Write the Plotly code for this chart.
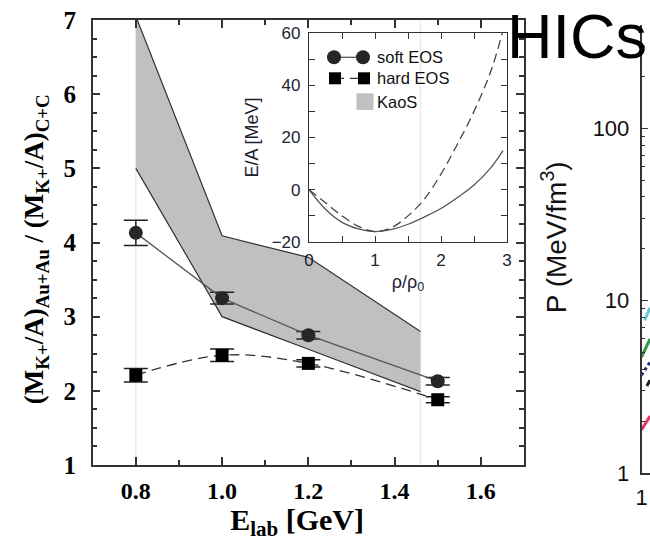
import plotly.graph_objects as go

# ---------------- data ----------------
energies = [0.8, 1.0, 1.2, 1.5]
soft_ratio = [4.13, 3.25, 2.75, 2.13]
soft_err = [0.17, 0.08, 0.05, 0.05]
hard_ratio = [2.21, 2.48, 2.37, 1.88]
hard_err = [0.09, 0.085, 0.05, 0.04]

kaos_x = [0.8, 1.0, 1.2, 1.46]
kaos_upper = [7.05, 4.09, 3.80, 2.80]
kaos_lower = [5.00, 3.00, 2.56, 1.99]

rho = [0.0, 0.25, 0.5, 0.75, 1.0, 1.25, 1.5, 1.75, 2.0, 2.25, 2.5, 2.75, 2.94]
ea_soft = [0.0, -7.5, -12.5, -15.0, -16.0, -15.2, -13.2, -10.4, -7.2, -3.0, 1.8, 8.3, 15.0]
ea_hard = [0.0, -5.0, -10.0, -14.0, -16.0, -14.5, -10.0, -3.5, 6.0, 17.5, 30.0, 45.0, 61.0]

legend_names = ["soft EOS", "hard EOS", "KaoS"]

# fragments of the neighbouring (cropped) pressure panel
p_cyan_x, p_cyan_y = [1.03, 1.08], [7.7, 9.1]
p_green_x, p_green_y = [1.0, 1.08], [4.7, 6.0]
p_navy_x, p_navy_y = [1.0, 1.08], [3.7, 4.4]
p_black_x, p_black_y = [1.05, 1.08], [3.2, 3.45]
p_red_x, p_red_y = [1.0, 1.08], [1.78, 2.14]

W, H = 650, 541
def px(x):
    return x / W
def py(y):
    return 1 - y / H

SERIF = "Liberation Serif"
SANS = "Liberation Sans"

fig = go.Figure()

# KaoS band (fill)
fig.add_trace(go.Scatter(
    x=kaos_x + kaos_x[::-1], y=kaos_upper + kaos_lower[::-1],
    fill="toself", fillcolor="#c0c0c0", mode="none",
    name=legend_names[2], xaxis="x", yaxis="y", hoverinfo="skip"))
fig.add_trace(go.Scatter(x=kaos_x, y=kaos_upper, mode="lines",
                         line=dict(color="#333333", width=1.2),
                         xaxis="x", yaxis="y"))
fig.add_trace(go.Scatter(x=kaos_x, y=kaos_lower, mode="lines",
                         line=dict(color="#333333", width=1.2),
                         xaxis="x", yaxis="y"))

# hard EOS
fig.add_trace(go.Scatter(
    x=energies, y=hard_ratio, mode="lines+markers", name=legend_names[1],
    line=dict(color="#333333", width=1.3, dash="10px,6px", shape="spline"),
    marker=dict(symbol="square", size=13, color="black"),
    error_y=dict(type="data", array=hard_err, color="#222222", thickness=1.5, width=12),
    xaxis="x", yaxis="y"))

# soft EOS
fig.add_trace(go.Scatter(
    x=energies, y=soft_ratio, mode="lines+markers", name=legend_names[0],
    line=dict(color="#555555", width=1.3),
    marker=dict(symbol="circle", size=14, color="#262626"),
    error_y=dict(type="data", array=soft_err, color="#222222", thickness=1.5, width=12),
    xaxis="x", yaxis="y"))

# inset EOS curves
fig.add_trace(go.Scatter(x=rho, y=ea_soft, mode="lines",
                         line=dict(color="#555555", width=1.3, shape="spline"),
                         xaxis="x2", yaxis="y2", cliponaxis=True))
fig.add_trace(go.Scatter(x=rho, y=ea_hard, mode="lines",
                         line=dict(color="#444444", width=1.3, dash="9px,5px", shape="spline"),
                         xaxis="x2", yaxis="y2", cliponaxis=True))

# right panel fragments
for xs, ys, col, dash in [(p_cyan_x, p_cyan_y, "#5ccbd6", "solid"),
                          (p_green_x, p_green_y, "#2f9a48", "solid"),
                          (p_navy_x, p_navy_y, "#1f2a8a", "dot"),
                          (p_black_x, p_black_y, "#222222", "dash"),
                          (p_red_x, p_red_y, "#e8356b", "solid")]:
    fig.add_trace(go.Scatter(x=xs, y=ys, mode="lines",
                             line=dict(color=col, width=3, dash=dash),
                             xaxis="x3", yaxis="y3"))

axis_common = dict(showline=True, linecolor="#333333", linewidth=1.5, mirror="allticks",
                   ticks="inside", tickcolor="#333333", showgrid=False, zeroline=False,
                   automargin=False)

# hand-drawn legend inside the inset (two markers per entry like the original)
leg_font = dict(family=SANS, size=16.5, color="#111111")
shapes = [
    dict(type="line", xref="x", yref="y", x0=0.8, x1=0.8, y0=1, y1=7,
         line=dict(color="#ececec", width=1.5), layer="below"),
    dict(type="line", xref="x", yref="y", x0=1.46, x1=1.46, y0=1, y1=7,
         line=dict(color="#ececec", width=1.5), layer="below"),
    # soft EOS entry
    dict(type="line", xref="paper", yref="paper", x0=px(334), x1=px(363), y0=py(57.3), y1=py(57.3),
         line=dict(color="#555555", width=1.3)),
    dict(type="circle", xref="paper", yref="paper", x0=px(327), x1=px(341), y0=py(64.3), y1=py(50.3),
         fillcolor="#262626", line=dict(width=0)),
    dict(type="circle", xref="paper", yref="paper", x0=px(356), x1=px(370), y0=py(64.3), y1=py(50.3),
         fillcolor="#262626", line=dict(width=0)),
    # hard EOS entry
    dict(type="line", xref="paper", yref="paper", x0=px(335), x1=px(364), y0=py(78.3), y1=py(78.3),
         line=dict(color="#333333", width=1.3, dash="9px,6px")),
    dict(type="rect", xref="paper", yref="paper", x0=px(329), x1=px(341), y0=py(84.3), y1=py(72.3),
         fillcolor="black", line=dict(width=0)),
    dict(type="rect", xref="paper", yref="paper", x0=px(358), x1=px(370), y0=py(84.3), y1=py(72.3),
         fillcolor="black", line=dict(width=0)),
    # KaoS entry
    dict(type="rect", xref="paper", yref="paper", x0=px(356.5), x1=px(373.5), y0=py(110), y1=py(93.3),
         fillcolor="#c0c0c0", line=dict(width=0)),
]
annotations = [
    dict(text="HICs", x=px(505), y=py(36), xref="paper", yref="paper",
         xanchor="left", yanchor="middle", showarrow=False,
         font=dict(family=SANS, size=63, color="black")),
]
for name, yy in zip(legend_names, [57.3, 78.3, 101.7]):
    annotations.append(dict(text=name, x=px(375), y=py(yy), xref="paper", yref="paper",
                            xanchor="left", yanchor="middle", showarrow=False, font=leg_font))

fig.update_layout(
    width=W, height=H, template="none",
    margin=dict(l=0, r=0, t=0, b=0),
    paper_bgcolor="white", plot_bgcolor="rgba(0,0,0,0)",
    showlegend=False,
    xaxis=dict(axis_common, domain=[px(92.7), px(524)], range=[0.7, 1.7],
               tick0=0.8, dtick=0.2, tickformat=".1f", ticklen=8, tickwidth=1.5,
               minor=dict(dtick=0.1, ticks="inside", ticklen=5, tickcolor="#333333"),
               tickfont=dict(family=SERIF, size=24, color="black", weight="bold"),
               ticklabelstandoff=3,
               title=dict(text="E<sub>lab</sub> [GeV]&nbsp;&nbsp;&nbsp;", standoff=10,
                          font=dict(family=SERIF, size=30, color="black", weight="bold")),
               anchor="y"),
    yaxis=dict(axis_common, domain=[py(465), py(20)], range=[1, 7],
               dtick=1, ticklen=8, tickwidth=1.5,
               minor=dict(dtick=0.25, ticks="inside", ticklen=5, tickcolor="#333333"),
               tickfont=dict(family=SERIF, size=25, color="black", weight="bold"),
               ticklabelstandoff=10,
               title=dict(text="(M<sub>K+</sub>/A)<sub>Au+Au</sub> / (M<sub>K+</sub>/A)<sub>C+C</sub>&nbsp;&nbsp;",
                          standoff=12,
                          font=dict(family=SERIF, size=27, color="black", weight="bold")),
               anchor="x"),
    xaxis2=dict(axis_common, domain=[px(309), px(507)], range=[0, 3],
                dtick=1, ticklen=6, tickwidth=1.2, linewidth=1.2,
                minor=dict(dtick=0.5, ticks="inside", ticklen=6, tickcolor="#333333"),
                tickfont=dict(family=SANS, size=17, color="#1c2233"),
                ticklabelstandoff=2,
                title=dict(text="ρ/ρ<sub>0</sub>", standoff=6,
                           font=dict(family=SANS, size=18, color="#1c2233")),
                anchor="y2"),
    yaxis2=dict(axis_common, domain=[py(242), py(33)], range=[-20, 60],
                dtick=20, ticklen=6, tickwidth=1.2, linewidth=1.2,
                minor=dict(dtick=10, ticks="inside", ticklen=6, tickcolor="#333333"),
                tickfont=dict(family=SANS, size=17, color="#1c2233"),
                ticklabelstandoff=4,
                title=dict(text="E/A [MeV]", standoff=8,
                           font=dict(family=SANS, size=18, color="#1c2233")),
                anchor="x2"),
    xaxis3=dict(axis_common, mirror=False, domain=[px(641.5), 1], range=[1, 1.08],
                tickvals=[1], ticktext=["1"], ticklen=6, tickwidth=1.2, linewidth=1.5,
                tickfont=dict(family=SANS, size=22, color="#111111"),
                ticklabelstandoff=4, anchor="y3"),
    yaxis3=dict(axis_common, mirror=False, type="log", domain=[py(473), py(25)], range=[0, 2.6],
                tickvals=[1, 10, 100], ticktext=["1", "10", "100"], ticklen=7, tickwidth=1.2,
                minor=dict(tickvals=[2, 3, 4, 5, 6, 7, 8, 9, 20, 30, 40, 50, 60, 70, 80, 90, 200, 300],
                           ticks="inside", ticklen=4, tickcolor="#333333"),
                tickfont=dict(family=SANS, size=22, color="#111111"),
                ticklabelstandoff=6,
                title=dict(text="&nbsp;&nbsp;&nbsp;P (MeV/fm<sup>3</sup>)", standoff=18,
                           font=dict(family=SANS, size=28, color="#111111")),
                anchor="x3"),
    shapes=shapes,
    annotations=annotations,
)

fig.write_html("out.html")
